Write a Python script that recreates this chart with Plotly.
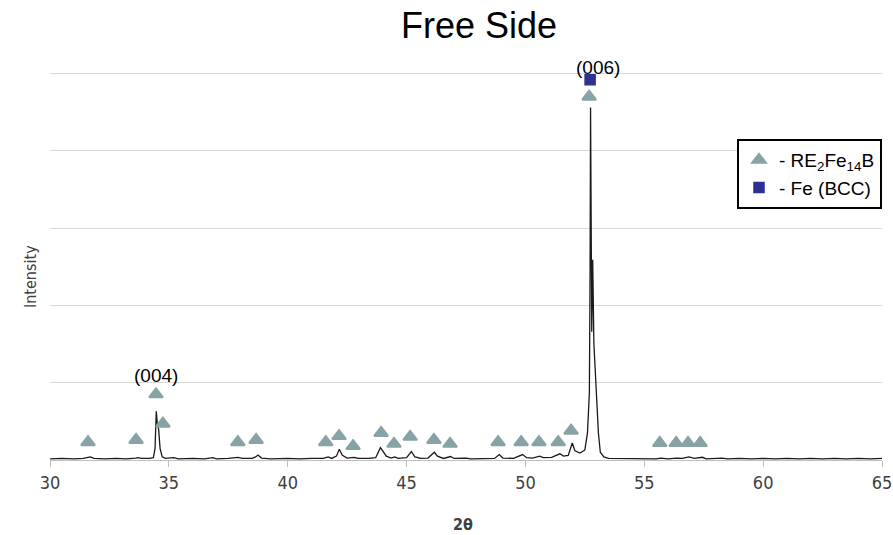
import plotly.graph_objects as go

# XRD pattern (2θ in degrees, intensity in arbitrary grid units)
two_theta = [30.0, 30.5, 31.0, 31.4, 31.6, 31.7, 31.85, 32.3, 32.8, 33.2, 33.6, 33.7, 33.85,
             34.2, 34.35, 34.42, 34.47, 34.52, 34.57, 34.63, 34.72, 34.85, 35.2, 35.4,
             36.0, 36.5, 36.85, 37.0, 37.5, 37.9, 38.1, 38.5, 38.65, 38.75, 38.9, 39.3,
             40.0, 40.5, 41.0, 41.5, 41.7, 41.85, 42.05, 42.17, 42.3, 42.5, 42.8, 42.95,
             43.4, 43.7, 43.9, 44.0, 44.15, 44.35, 44.5, 44.65, 45.0, 45.2, 45.35, 45.6,
             45.9, 46.17, 46.3, 46.55, 46.85, 47.0, 47.5, 47.7, 48.2, 48.7, 48.9, 49.05,
             49.5, 49.88, 50.05, 50.3, 50.6, 50.75, 51.1, 51.45, 51.6, 51.8, 51.97, 52.08,
             52.3, 52.5, 52.61, 52.69, 52.72, 52.74, 52.79, 52.83, 52.88, 52.97, 53.07,
             53.15, 53.3, 53.5, 54.0, 54.5, 55.0, 55.5, 55.7, 56.0, 56.35, 56.6, 56.88,
             57.1, 57.45, 57.6, 58.27, 58.5, 59.0, 59.5, 60.0, 60.5, 61.0, 61.5, 62.0,
             62.5, 63.0, 63.5, 64.0, 64.5, 65.0]
intensity = [0.015, 0.02, 0.015, 0.02, 0.035, 0.04, 0.02, 0.015, 0.02, 0.015, 0.025, 0.03, 0.02,
             0.02, 0.03, 0.15, 0.63, 0.45, 0.40, 0.15, 0.04, 0.02, 0.03, 0.015,
             0.02, 0.015, 0.03, 0.015, 0.02, 0.035, 0.02, 0.02, 0.04, 0.065, 0.025, 0.015,
             0.02, 0.015, 0.02, 0.02, 0.04, 0.02, 0.05, 0.14, 0.06, 0.025, 0.035, 0.02,
             0.02, 0.03, 0.16, 0.12, 0.05, 0.025, 0.04, 0.02, 0.03, 0.11, 0.04, 0.02,
             0.025, 0.10, 0.05, 0.02, 0.045, 0.02, 0.025, 0.015, 0.02, 0.02, 0.07, 0.025,
             0.02, 0.07, 0.03, 0.025, 0.05, 0.03, 0.035, 0.08, 0.05, 0.06, 0.22, 0.12,
             0.09, 0.13, 0.35, 0.87, 2.5, 4.56, 1.66, 2.59, 1.5, 0.87, 0.35,
             0.1, 0.04, 0.02, 0.02, 0.015, 0.02, 0.015, 0.025, 0.015, 0.025, 0.02, 0.04,
             0.02, 0.035, 0.015, 0.025, 0.015, 0.02, 0.015, 0.02, 0.015, 0.02, 0.015, 0.02,
             0.015, 0.02, 0.015, 0.02, 0.015, 0.02]

# RE2Fe14B peak markers
tri_x = [31.6, 33.62, 34.46, 34.75, 37.9, 38.67, 41.6, 42.16, 42.75, 43.93, 44.47, 45.15,
         46.15, 46.83, 48.85, 49.82, 50.57, 51.38, 51.92, 52.68, 55.65, 56.34, 56.84, 57.35]
tri_y = [0.23, 0.26, 0.85, 0.47, 0.23, 0.26, 0.23, 0.31, 0.18, 0.35, 0.21, 0.30,
         0.26, 0.21, 0.23, 0.23, 0.23, 0.23, 0.38, 4.70, 0.22, 0.22, 0.22, 0.22]

# Fe (BCC) peak marker
sq_x = [52.72]
sq_y = [4.92]

# peak labels
label_text = ["(004)", "(006)"]
label_x = [34.46, 53.05]
label_y = [1.09, 5.08]

x_ticks = [30, 35, 40, 45, 50, 55, 60, 65]
y_max = 5.02

narrow = "Liberation Sans Narrow, DejaVu Sans Condensed, Arial Narrow, sans-serif"
arial = "Liberation Sans, Arial, sans-serif"

M_T, M_B = 72, 75
plot_h = 535 - M_T - M_B

fig = go.Figure()
fig.add_trace(go.Scatter(x=two_theta, y=intensity, mode="lines",
                         line=dict(color="#1a1a1a", width=1.3), showlegend=False,
                         hoverinfo="skip"))
fig.add_trace(go.Scatter(x=tri_x, y=tri_y, mode="markers", name="- RE<sub>2</sub>Fe<sub>14</sub>B",
                         marker=dict(symbol="triangle-up", size=12, color="#87a3a5",
                                     line=dict(color="#87a3a5", width=2)),
                         cliponaxis=False))
fig.add_trace(go.Scatter(x=sq_x, y=sq_y, mode="markers", name="- Fe (BCC)",
                         marker=dict(symbol="square", size=10, color="#2e3192",
                                     line=dict(color="#2e3192", width=1.5)),
                         cliponaxis=False))

for t, xx, yy in zip(label_text, label_x, label_y):
    fig.add_annotation(x=xx, xref="x", y=yy / y_max, yref="paper", text=t, showarrow=False,
                       xanchor="center", yanchor="middle",
                       font=dict(family=arial, size=19, color="black"))

# axis titles
fig.add_annotation(x=(463 - 50) / 832, xref="paper", y=-(524 - 460) / plot_h, yref="paper",
                   text="<b>2θ</b>", showarrow=False, xanchor="center", yanchor="middle",
                   font=dict(family=narrow, size=16, color="#404040"))
fig.add_annotation(x=-(50 - 30) / 832, xref="paper", y=(460 - 277) / plot_h, yref="paper",
                   text="Intensity", textangle=-90, showarrow=False,
                   xanchor="center", yanchor="middle",
                   font=dict(family=narrow, size=16, color="#404040"))

fig.update_layout(
    width=893, height=535,
    margin=dict(l=50, r=11, t=M_T, b=M_B, autoexpand=False),
    paper_bgcolor="white", plot_bgcolor="white",
    title=dict(text="Free Side", x=479 / 893, xanchor="center", y=1 - 25 / 535, yanchor="middle",
               font=dict(family=arial, size=36, color="black")),
    xaxis=dict(range=[30, 65], tickvals=x_ticks, showgrid=False, zeroline=False,
               showline=True, linecolor="#bfbfbf", linewidth=1, automargin=False,
               ticks="outside", ticklen=6, tickcolor="#bfbfbf",
               tickfont=dict(family=narrow, size=18, color="#404040")),
    yaxis=dict(range=[0, y_max], dtick=1, showgrid=True, gridcolor="#d9d9d9", gridwidth=1,
               zeroline=False, showticklabels=False, showline=False, automargin=False),
    legend=dict(x=1, xanchor="right", y=(460 - 139) / plot_h, yanchor="top",
                bgcolor="white", bordercolor="black", borderwidth=2,
                font=dict(family=arial, size=19, color="black"),
                itemwidth=30, tracegroupgap=0),
    showlegend=True,
)

fig.write_html("out.html", config={"displayModeBar": False},
               post_script="document.body.style.margin='0';")
